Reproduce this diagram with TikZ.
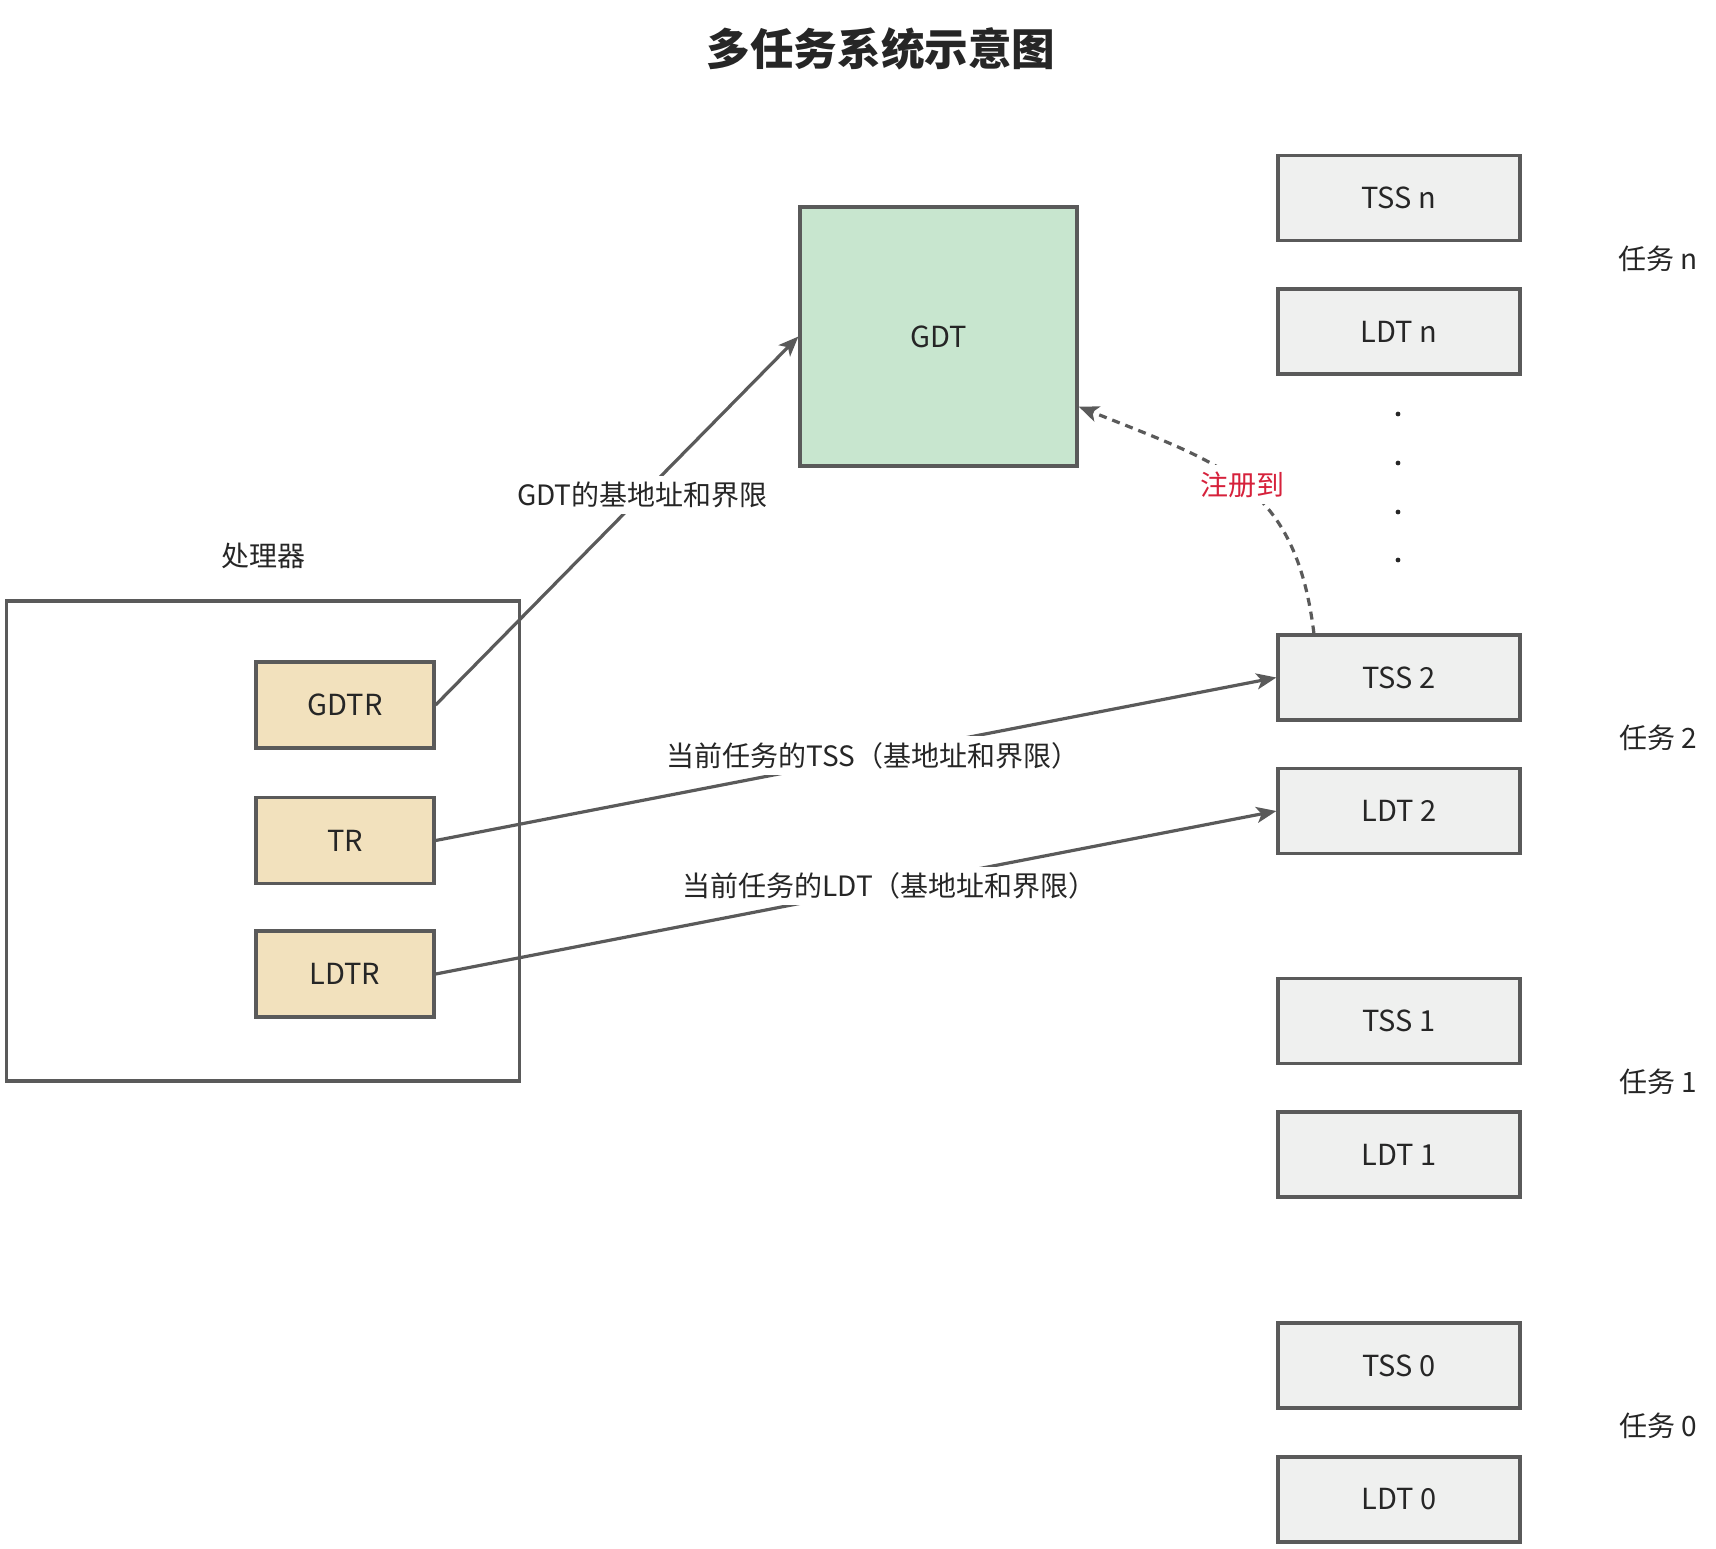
\documentclass[tikz,border=0pt]{standalone}
\usepackage{fontspec}
\setmainfont{Noto Sans CJK SC}
\usetikzlibrary{arrows.meta}
\definecolor{edge}{HTML}{5A5A5A}
\definecolor{txt}{HTML}{262626}
\definecolor{gdtfill}{HTML}{C8E6CF}
\definecolor{regfill}{HTML}{F2E1BD}
\definecolor{tssfill}{HTML}{EFF0EF}
\definecolor{redtxt}{HTML}{D6213B}
\tikzset{
  box/.style={draw=edge, line width=1.6pt, inner sep=0pt, text=txt, font=\fontsize{14.5}{17}\selectfont},
  regbox/.style={box, fill=regfill, minimum width=89pt, minimum height=43pt},
  tssbox/.style={box, fill=tssfill, minimum width=121pt, minimum height=42.5pt},
  gdtbox/.style={box, fill=gdtfill, minimum width=138.5pt, minimum height=129.5pt},
  procbox/.style={box, minimum width=256.5pt, minimum height=240pt},
  lbl/.style={text=txt, font=\fontsize{14}{17}\selectfont, inner sep=2pt},
  onlbl/.style={lbl, fill=white, inner sep=3pt},
  conn/.style={draw=edge, line width=1.6pt, -{Stealth[length=10pt,width=8pt,inset=2.5pt]}},
}
\begin{document}
\begin{tikzpicture}[x=0.5pt,y=-0.5pt]
\useasboundingbox (0,0) rectangle (1716,1548);
\node[text=txt, font=\bfseries\fontsize{21.8}{26}\selectfont] (title) at (881,49) {多任务系统示意图};

\node[procbox] (proc) at (263,841) {};
\node[lbl] (proclbl) at (263,556) {处理器};
\node[regbox] (gdtr) at (345,705) {GDTR};
\node[regbox] (tr) at (345,840.5) {TR};
\node[regbox] (ldtr) at (345,974) {LDTR};

\node[gdtbox] (gdt) at (938.5,336.5) {GDT};

\node[tssbox] (tssn) at (1399,198) {TSS n};
\node[tssbox] (ldtn) at (1399,331.5) {LDT n};
\node[tssbox] (tss2) at (1399,677.5) {TSS 2};
\node[tssbox] (ldt2) at (1399,811) {LDT 2};
\node[tssbox] (tss1) at (1399,1021) {TSS 1};
\node[tssbox] (ldt1) at (1399,1154.5) {LDT 1};
\node[tssbox] (tss0) at (1399,1365.5) {TSS 0};
\node[tssbox] (ldt0) at (1399,1499.5) {LDT 0};

\foreach \yy in {414,463,512,560} \fill[txt] (1398,\yy) circle (1.2pt);

\node[lbl] (taskn) at (1658,259) {任务 n};
\node[lbl] (task2) at (1658,738) {任务 2};
\node[lbl] (task1) at (1658,1082) {任务 1};
\node[lbl] (task0) at (1658,1426) {任务 0};

\draw[conn] (gdtr.east) -- node[onlbl, pos=0.57] {GDT的基地址和界限} (gdt.west);
\draw[conn] (tr.east) -- node[onlbl, pos=0.52] {当前任务的TSS（基地址和界限）} (tss2.west);
\draw[conn] (ldtr.east) -- node[onlbl, pos=0.54] {当前任务的LDT（基地址和界限）} (ldt2.west);

\coordinate (regstart) at ([xshift=18.75pt]tss2.north west);
\coordinate (regend) at ([yshift=-35pt]gdt.east);
\draw[conn, dash pattern=on 4pt off 3pt] (regstart) to[out=97,in=-22,looseness=1.2] node[onlbl, pos=0.5, text=redtxt] {注册到} (regend);
\end{tikzpicture}
\end{document}
